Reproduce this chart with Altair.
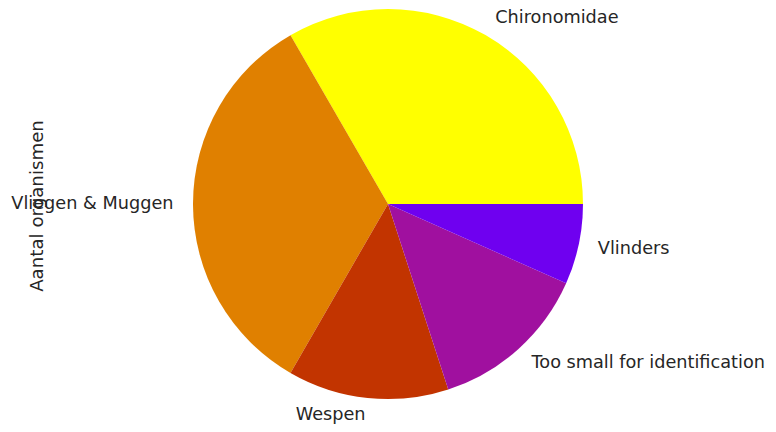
import altair as alt
import pandas as pd

categories = ["Chironomidae", "Vliegen & Muggen", "Wespen", "Too small for identification", "Vlinders"]
counts = [5, 5, 2, 2, 1]
colors = ["#ffff00", "#e08000", "#c23400", "#a0109f", "#6f00f0"]
# drawing order clockwise from 3 o'clock going up (matplotlib counter-clockwise)
order = [4, 3, 2, 1, 0]
side = ["left", "right", "bottom", "left", "left"]

df = pd.DataFrame({
    "cat": categories,
    "n": counts,
    "ord": order,
    "side": side,
})

total = sum(counts)
theta_scale = alt.Scale(domain=[0, total], range=[1.5707963, 1.5707963 + 6.2831853])

base = alt.Chart(df).transform_stack(
    stack="n", groupby=[], as_=["s0", "s1"], sort=[alt.SortField("ord", order="ascending")]
).transform_calculate(mid="(datum.s0 + datum.s1) / 2")

arcs = base.mark_arc(radius=195).encode(
    theta=alt.Theta("s0:Q", scale=theta_scale, stack=None),
    theta2="s1:Q",
    color=alt.Color("cat:N", scale=alt.Scale(domain=categories, range=colors), legend=None),
)

FS = 17.7


def labels(which, align, dy=0):
    return base.mark_text(radius=214.5, align=align, baseline="middle", dy=dy,
                          font="DejaVu Sans", fontSize=FS, color="#262626").encode(
        theta=alt.Theta("mid:Q", scale=theta_scale, stack=None),
        text="cat:N",
    ).transform_filter(alt.datum.side == which)


lab_left = labels("left", "left")
lab_right = labels("right", "right")
lab_bottom = labels("bottom", "right", dy=-2)

ylabel = alt.Chart(pd.DataFrame({"t": ["Aantal organismen"]})).mark_text(
    angle=270, align="center", baseline="middle",
    font="DejaVu Sans", fontSize=18.2, color="#262626"
).encode(x=alt.value(29.5), y=alt.value(198), text="t:N")

chart = alt.layer(arcs, lab_left, lab_right, lab_bottom, ylabel).properties(
    width=760, height=392,
    autosize=alt.AutoSizeParams(type="none"),
    padding={"left": 0, "top": 0, "right": 0, "bottom": 24},
).configure_view(stroke=None)

chart.save("out.html", embed_options={"renderer": "svg", "actions": False})
